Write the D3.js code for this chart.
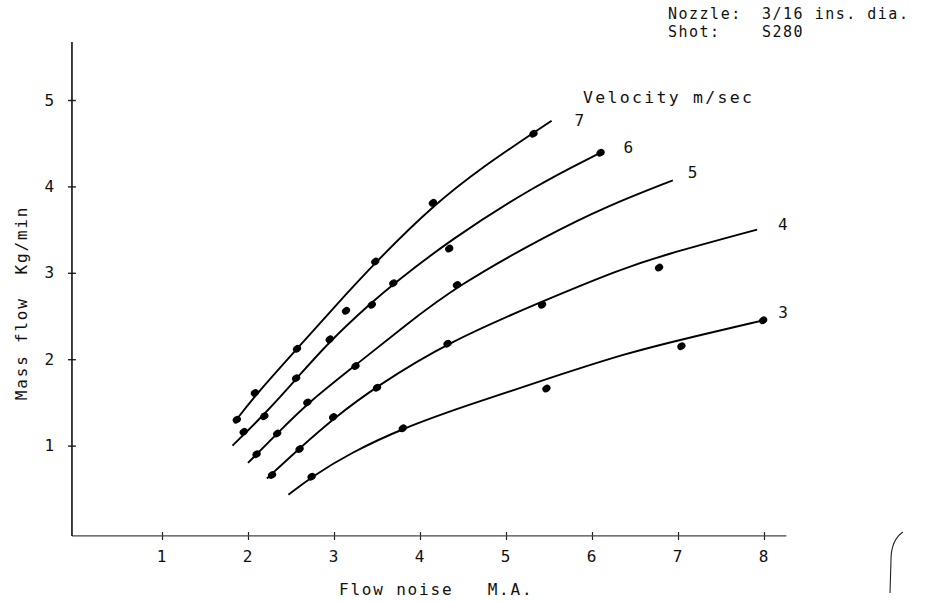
<!DOCTYPE html>
<html><head><meta charset="utf-8">
<script src="https://cdn.jsdelivr.net/npm/d3@7"></script>
<style>
body{margin:0;background:#fff}
text{font-family:"DejaVu Sans Mono",monospace;fill:#111;font-size:16px;letter-spacing:1.8px;white-space:pre}
</style>
</head><body>
<svg id="c" width="938" height="602"></svg>
<script>
// ---- data ----
const xTicks = [1,2,3,4,5,6,7,8];
const yTicks = [1,2,3,4,5];
const velocities = ["7","6","5","4","3"];
// fitted curves (flow noise M.A., mass flow kg/min)
const curve7 = [[1.85,1.28],[2.1,1.6],[2.57,2.12],[3.0,2.6],[3.48,3.12],[4.15,3.78],[4.75,4.24],[5.32,4.62],[5.53,4.76]];
const curve6 = [[1.82,1.0],[2.19,1.36],[2.56,1.77],[2.94,2.2],[3.44,2.66],[3.69,2.87],[4.35,3.38],[5.32,4.0],[6.1,4.39]];
const curve5 = [[2.0,0.8],[2.34,1.14],[2.69,1.49],[3.25,1.93],[3.8,2.37],[4.43,2.85],[5.47,3.43],[6.17,3.77],[6.94,4.07]];
const curve4 = [[2.22,0.62],[2.6,0.97],[3.0,1.32],[3.5,1.69],[4.31,2.19],[5.42,2.67],[6.33,3.04],[6.81,3.2],[7.92,3.5]];
const curve3 = [[2.47,0.43],[2.74,0.64],[3.2,0.92],[3.8,1.2],[4.5,1.45],[5.47,1.77],[6.4,2.07],[7.05,2.23],[7.99,2.45]];
// measured points
const dots7 = [[1.87,1.3],[2.08,1.61],[2.57,2.12],[3.14,2.56],[3.48,3.13],[4.15,3.81],[5.32,4.61]];
const dots6 = [[1.95,1.16],[2.19,1.34],[2.56,1.78],[2.95,2.23],[3.44,2.63],[3.69,2.88],[4.34,3.28],[6.1,4.39]];
const dots5 = [[2.1,0.9],[2.34,1.14],[2.69,1.5],[3.25,1.92],[4.43,2.86]];
const dots4 = [[2.28,0.66],[2.6,0.96],[2.99,1.33],[3.5,1.67],[4.32,2.18],[5.42,2.63],[6.78,3.06]];
const dots3 = [[2.74,0.64],[3.8,1.2],[5.47,1.66],[7.04,2.15],[7.99,2.45]];

const curves = [curve7,curve6,curve5,curve4,curve3];
const dotSets = [dots7,dots6,dots5,dots4,dots3];
const labelOffsets = [[23,0],[23,-5],[15,-8],[21,-5],[15,-8]];

const svg = d3.select("#c");
const x = d3.scaleLinear().domain([0,8]).range([76,764]);
const y = d3.scaleLinear().domain([0,5]).range([532,100]);
const xMin = -0.047, xMax = 8.26, yMin = -0.046, yMax = 5.67;

// axes
const gx = svg.append("g").attr("transform",`translate(0,${y(yMin)})`)
  .call(d3.axisBottom(x).tickValues(xTicks).tickFormat(d3.format("d")).tickSize(4).tickPadding(8));
gx.select(".domain").remove();
gx.selectAll(".tick line").attr("y1",-4).attr("y2",4).attr("stroke","#222").attr("stroke-width",1.2);
gx.selectAll(".tick text").attr("dy","0.85em");
svg.append("line").attr("x1",x(xMin)).attr("x2",x(xMax)).attr("y1",y(yMin)).attr("y2",y(yMin))
  .attr("stroke","#444").attr("stroke-width",1.2);

const gy = svg.append("g").attr("transform",`translate(${x(xMin)},0)`)
  .call(d3.axisLeft(y).tickValues(yTicks).tickFormat(d3.format("d")).tickSize(4).tickPadding(12));
gy.select(".domain").remove();
gy.selectAll(".tick line").attr("x1",-4).attr("x2",4).attr("stroke","#222").attr("stroke-width",1.4);
svg.append("line").attr("x1",x(xMin)).attr("x2",x(xMin)).attr("y1",y(yMin)).attr("y2",y(yMax))
  .attr("stroke","#111").attr("stroke-width",1.6);
svg.selectAll(".tick text").style("font-family","'DejaVu Sans Mono',monospace").style("font-size","16px").attr("fill","#111");

// curves
const line = d3.line().x(d=>x(d[0])).y(d=>y(d[1])).curve(d3.curveBasis);
svg.selectAll("path.curve").data(curves).join("path").attr("class","curve")
  .attr("d",line).attr("fill","none").attr("stroke","#000").attr("stroke-width",1.9);

// dots
dotSets.forEach(ds=>{
  svg.append("g").selectAll("ellipse").data(ds).join("ellipse")
    .attr("transform",d=>`translate(${x(d[0])},${y(d[1])}) rotate(-35)`)
    .attr("rx",4.3).attr("ry",3.5).attr("fill","#000");
});

// curve labels
curves.forEach((c,i)=>{
  const e = c[c.length-1];
  svg.append("text").attr("x",x(e[0])+labelOffsets[i][0]).attr("y",y(e[1])+labelOffsets[i][1])
    .attr("dy","0.35em").text(velocities[i]);
});

// annotations
const noteRows = [["Nozzle:","3/16 ins. dia.",19],["Shot:","S280",37]];
noteRows.forEach(r=>{
  svg.append("text").attr("x",668).attr("y",r[2]).style("font-size","15px").style("letter-spacing","1.5px").text(r[0]);
  svg.append("text").attr("x",762).attr("y",r[2]).style("font-size","15px").style("letter-spacing","1.5px").text(r[1]);
});
svg.append("text").attr("x",583).attr("y",103).style("font-size","16.5px").style("letter-spacing","2.3px").text("Velocity m/sec");

// axis titles
svg.append("text").attr("x",339).attr("y",595).text("Flow noise   M.A.");
svg.append("text").attr("transform","translate(27,303) rotate(-90)").attr("text-anchor","middle").text("Mass flow  Kg/min");

// stray pen mark at lower right
svg.append("path").attr("d","M903,532 C894,538 891,548 891,560 L890,593")
  .attr("fill","none").attr("stroke","#222").attr("stroke-width",1.1);
</script>
</body></html>
